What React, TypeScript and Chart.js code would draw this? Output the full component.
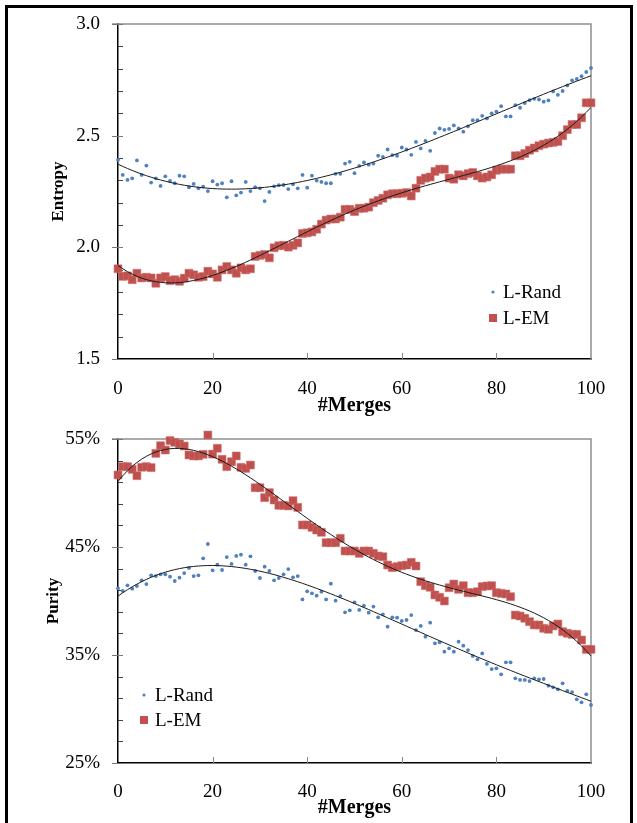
import React, { useEffect, useRef } from "react";
import { Chart, registerables } from "chart.js";

Chart.register(...registerables);

const FONT = "'Liberation Serif', 'Times New Roman', serif";

const merges = [
  0, 1, 2, 3, 4, 5, 6, 7, 8, 9, 10, 11, 12, 13, 14, 15, 16, 17, 18, 19, 20,
  21, 22, 23, 24, 25, 26, 27, 28, 29, 30, 31, 32, 33, 34, 35, 36, 37, 38, 39, 40,
  41, 42, 43, 44, 45, 46, 47, 48, 49, 50, 51, 52, 53, 54, 55, 56, 57, 58, 59, 60,
  61, 62, 63, 64, 65, 66, 67, 68, 69, 70, 71, 72, 73, 74, 75, 76, 77, 78, 79, 80,
  81, 82, 83, 84, 85, 86, 87, 88, 89, 90, 91, 92, 93, 94, 95, 96, 97, 98, 99, 100,
];

const entropyRand = [
  2.392, 2.324, 2.302, 2.309, 2.389, 2.324, 2.366, 2.29, 2.309, 2.275, 2.318,
  2.297, 2.287, 2.321, 2.318, 2.269, 2.284, 2.264, 2.272, 2.252, 2.296,
  2.281, 2.287, 2.224, 2.296, 2.233, 2.245, 2.293, 2.252, 2.269, 2.264,
  2.207, 2.248, 2.273, 2.278, 2.279, 2.261, 2.282, 2.264, 2.324, 2.267,
  2.321, 2.299, 2.293, 2.287, 2.287, 2.329, 2.329, 2.375, 2.383, 2.332,
  2.365, 2.38, 2.37, 2.375, 2.41, 2.405, 2.438, 2.413, 2.41, 2.447,
  2.438, 2.414, 2.472, 2.443, 2.477, 2.432, 2.512, 2.532, 2.526, 2.53,
  2.546, 2.532, 2.518, 2.542, 2.569, 2.569, 2.589, 2.577, 2.6, 2.608,
  2.632, 2.586, 2.586, 2.637, 2.625, 2.646, 2.659, 2.665, 2.662, 2.652,
  2.658, 2.698, 2.683, 2.7, 2.725, 2.748, 2.754, 2.766, 2.785, 2.803,
];

const entropyEM = [
  1.904, 1.87, 1.872, 1.855, 1.884, 1.863, 1.866, 1.863, 1.839, 1.863, 1.869,
  1.851, 1.855, 1.848, 1.862, 1.884, 1.877, 1.866, 1.869, 1.893, 1.881,
  1.866, 1.899, 1.914, 1.899, 1.884, 1.908, 1.899, 1.904, 1.959, 1.964,
  1.968, 1.953, 1.998, 2.007, 2.009, 2.001, 2.009, 2.02, 2.062, 2.065,
  2.069, 2.081, 2.104, 2.122, 2.127, 2.127, 2.135, 2.17, 2.17, 2.16,
  2.175, 2.175, 2.18, 2.2, 2.21, 2.22, 2.235, 2.24, 2.24, 2.242,
  2.245, 2.23, 2.265, 2.3, 2.31, 2.315, 2.34, 2.35, 2.35, 2.31,
  2.305, 2.325, 2.32, 2.33, 2.335, 2.32, 2.31, 2.315, 2.325, 2.345,
  2.35, 2.35, 2.35, 2.41, 2.41, 2.42, 2.435, 2.445, 2.455, 2.462,
  2.467, 2.47, 2.474, 2.5, 2.527, 2.55, 2.55, 2.58, 2.647, 2.647,
];

const purityRand = [
  41.17, 40.93, 41.45, 41.14, 41.39, 41.91, 41.57, 42.38, 42.31, 42.47, 42.47,
  42.25, 41.85, 42.16, 42.59, 43.06, 42.31, 42.38, 43.95, 45.28, 42.84,
  43.36, 42.87, 44.07, 43.43, 44.17, 44.29, 43.36, 44.14, 42.78, 42.13,
  43.18, 42.78, 41.91, 42.13, 42.47, 42.96, 42.19, 42.31, 40.15, 40.9,
  40.71, 40.49, 40.86, 40.15, 41.6, 40.03, 40.46, 38.95, 39.14, 39.88,
  39.17, 39.57, 38.92, 39.48, 38.49, 38.77, 37.62, 38.49, 38.46, 38.15,
  38.24, 38.7, 37.31, 37.69, 36.7, 37.99, 36.08, 36.17, 35.31, 35.62,
  35.31, 36.23, 35.86, 35.46, 34.91, 34.6, 35.15, 34.17, 33.7, 33.77,
  33.21, 34.32, 34.32, 32.84, 32.69, 32.69, 32.59, 32.84, 32.75, 32.78,
  32.16, 32.01, 31.82, 32.38, 31.67, 31.57, 30.9, 30.62, 31.36, 30.37,
];

const purityEM = [
  51.67, 52.44, 52.44, 52.19, 51.6, 52.38, 52.44, 52.35, 53.67, 54.38, 53.98,
  54.85, 54.69, 54.54, 54.35, 53.52, 53.43, 53.43, 53.58, 55.37, 53.6,
  54.14, 53.12, 52.44, 52.9, 53.43, 52.38, 52.28, 52.59, 50.49, 50.49,
  49.57, 50.03, 49.35, 48.86, 48.86, 48.8, 49.29, 48.67, 47.04, 47.04,
  46.82, 46.57, 46.36, 45.4, 45.4, 45.4, 45.8, 44.63, 44.63, 44.63,
  44.41, 44.63, 44.63, 44.41, 44.17, 44.1, 43.33, 43.09, 43.18, 43.27,
  43.33, 43.58, 43.24, 41.79, 41.42, 41.27, 40.56, 40.34, 40.0, 41.23,
  41.57, 41.08, 41.42, 40.77, 40.77, 40.86, 41.33, 41.39, 41.42, 40.77,
  40.71, 40.65, 40.4, 38.7, 38.61, 38.4, 38.09, 37.78, 37.78, 37.47,
  37.38, 37.69, 37.87, 37.16, 37.01, 36.91, 36.91, 36.39, 35.52, 35.52,
];

const seriesNames = ["L-Rand", "L-EM"];
const xTickValues = [0, 20, 40, 60, 80, 100];
const entropyTicks = [1.5, 2.0, 2.5, 3.0];
const purityTicks = [25, 35, 45, 55];

const BLUE = "#4F81BD";
const RED = "#C0504D";
const TREND_ORDER = 4;

function polyfit(xs: number[], ys: number[], deg: number) {
  const n = deg + 1;
  const A: number[][] = [];
  for (let i = 0; i < n; i++) A.push(new Array(n + 1).fill(0));
  for (let k = 0; k < xs.length; k++) {
    const t = xs[k] / 100;
    for (let i = 0; i < n; i++) {
      for (let j = 0; j < n; j++) A[i][j] += Math.pow(t, i + j);
      A[i][n] += ys[k] * Math.pow(t, i);
    }
  }
  for (let i = 0; i < n; i++) {
    let p = i;
    for (let r = i + 1; r < n; r++) if (Math.abs(A[r][i]) > Math.abs(A[p][i])) p = r;
    const tmp = A[i];
    A[i] = A[p];
    A[p] = tmp;
    for (let r = 0; r < n; r++) {
      if (r === i) continue;
      const f = A[r][i] / A[i][i];
      for (let c = i; c <= n; c++) A[r][c] -= f * A[i][c];
    }
  }
  const coef = A.map((row, i) => row[n] / row[i]);
  return (x: number) => coef.reduce((s, c, i) => s + c * Math.pow(x / 100, i), 0);
}

const decorPlugin = {
  id: "decor",
  beforeDatasetsDraw(chart: any, _a: any, opts: any) {
    const { ctx, chartArea } = chart;
    const { left, right, top, bottom } = chartArea;
    const ys = chart.scales.y;
    const xs = chart.scales.x;
    ctx.save();
    ctx.strokeStyle = "#8f8f8f";
    ctx.lineWidth = 1.5;
    ctx.beginPath();
    ctx.moveTo(left - 6, top);
    ctx.lineTo(right, top);
    ctx.lineTo(right, bottom);
    ctx.stroke();
    ctx.lineWidth = 1;
    const min = ys.min;
    const max = ys.max;
    const steps = Math.round((max - min) / opts.minor);
    for (let i = 0; i <= steps; i++) {
      const v = min + i * opts.minor;
      const py = Math.round(ys.getPixelForValue(v)) + 0.5;
      const q = (v - min) / opts.major;
      const isMajor = Math.abs(q - Math.round(q)) < 1e-6;
      ctx.strokeStyle = isMajor ? "#777" : "#444";
      ctx.beginPath();
      ctx.moveTo(isMajor ? left - 6 : left, py);
      ctx.lineTo(left + 5, py);
      ctx.stroke();
    }
    ctx.strokeStyle = "#888";
    for (const v of xTickValues) {
      if (v === xs.min || v === xs.max) continue;
      const px = Math.round(xs.getPixelForValue(v)) + 0.5;
      ctx.beginPath();
      ctx.moveTo(px, bottom);
      ctx.lineTo(px, bottom - 6);
      ctx.stroke();
    }
    ctx.restore();
  },
};

const keyPlugin = {
  id: "seriesKey",
  afterDraw(chart: any, _a: any, opts: any) {
    const { ctx, chartArea } = chart;
    const x0 = chartArea.left + opts.dx;
    let y = chartArea.top + opts.dy;
    ctx.save();
    ctx.font = `19px ${FONT}`;
    ctx.textBaseline = "middle";
    ctx.textAlign = "left";
    chart.data.datasets.forEach((ds: any) => {
      if (ds.showLine) return;
      ctx.fillStyle = ds.backgroundColor;
      if (ds.pointStyle === "rect") {
        ctx.fillRect(x0 - 4, y - 4, 8, 8);
      } else {
        ctx.beginPath();
        ctx.arc(x0, y, 1.6, 0, Math.PI * 2);
        ctx.fill();
      }
      ctx.fillStyle = "#000";
      ctx.fillText(ds.label, x0 + opts.textGap, y + 1);
      y += opts.gap;
    });
    ctx.restore();
  },
};

function makeConfig(p: any) {
  const fitR = polyfit(merges, p.rand, TREND_ORDER);
  const fitE = polyfit(merges, p.em, TREND_ORDER);
  const toPts = (arr: number[]) => merges.map((x, i) => ({ x, y: arr[i] }));
  const trend = (f: (x: number) => number) => merges.map((x) => ({ x, y: f(x) }));
  return {
    type: "scatter",
    data: {
      datasets: [
        {
          label: seriesNames[0],
          data: toPts(p.rand),
          pointStyle: "circle",
          pointRadius: 1.9,
          backgroundColor: BLUE,
          borderColor: BLUE,
          pointBorderWidth: 0,
          clip: false,
          order: 2,
        },
        {
          label: seriesNames[1],
          data: toPts(p.em),
          pointStyle: "rect",
          pointRadius: 5.6,
          backgroundColor: RED,
          borderColor: "rgba(205,110,108,0.55)",
          pointBorderWidth: 1,
          clip: false,
          order: 1,
        },
        {
          label: "trendR",
          data: trend(fitR),
          showLine: true,
          pointRadius: 0,
          borderColor: "#1a1a1a",
          borderWidth: 1,
          order: 0,
        },
        {
          label: "trendE",
          data: trend(fitE),
          showLine: true,
          pointRadius: 0,
          borderColor: "#1a1a1a",
          borderWidth: 1,
          order: 0,
        },
      ],
    },
    options: {
      animation: false,
      responsive: false,
      events: [],
      layout: { padding: { top: p.padTop, right: 46, bottom: p.padBottom, left: 0 } },
      plugins: {
        legend: { display: false },
        tooltip: { enabled: false },
        seriesKey: p.key,
        decor: { minor: p.minor, major: p.major },
      },
      scales: {
        x: {
          type: "linear",
          min: 0,
          max: 100,
          afterBuildTicks: (s: any) => {
            s.ticks = xTickValues.map((v) => ({ value: v }));
          },
          afterFit: (s: any) => {
            s.height = p.xHeight;
            s.paddingLeft = 0;
            s.paddingRight = 0;
          },
          grid: { display: false, drawTicks: false },
          border: { display: true, color: "#000", width: 1.5 },
          ticks: {
            padding: p.xPad,
            color: "#000",
            maxRotation: 0,
            autoSkip: false,
            font: { family: FONT, size: 19 },
          },
          title: {
            display: true,
            text: "#Merges",
            color: "#000",
            padding: 0,
            font: { family: FONT, size: 20, weight: "bold" },
          },
        },
        y: {
          min: p.yTicks[0],
          max: p.yTicks[p.yTicks.length - 1],
          afterBuildTicks: (s: any) => {
            s.ticks = p.yTicks.map((v: number) => ({ value: v }));
          },
          afterFit: (s: any) => {
            s.width = 118;
            s.paddingTop = 0;
            s.paddingBottom = 0;
          },
          grid: { display: false, drawTicks: false },
          border: { display: true, color: "#000", width: 1.5 },
          ticks: {
            padding: 18,
            color: "#000",
            callback: p.fmt,
            font: { family: FONT, size: 19 },
          },
          title: {
            display: true,
            text: p.title,
            color: "#000",
            padding: { top: p.titlePad, bottom: 0 },
            font: { family: FONT, size: 17, weight: "bold" },
          },
        },
      },
    },
    plugins: [decorPlugin, keyPlugin],
  };
}

export default function App() {
  const topRef = useRef<HTMLCanvasElement>(null);
  const botRef = useRef<HTMLCanvasElement>(null);

  useEffect(() => {
    const c1 = new Chart(
      topRef.current as HTMLCanvasElement,
      makeConfig({
        rand: entropyRand,
        em: entropyEM,
        yTicks: entropyTicks,
        fmt: (v: number) => Number(v).toFixed(1),
        title: "Entropy",
        titlePad: 48,
        minor: 0.1,
        major: 0.5,
        padTop: 24,
        padBottom: 2,
        xHeight: 59,
        xPad: 18.8,
        key: { dx: 375, dy: 268, gap: 26, textGap: 10 },
      }) as any
    );
    const c2 = new Chart(
      botRef.current as HTMLCanvasElement,
      makeConfig({
        rand: purityRand,
        em: purityEM,
        yTicks: purityTicks,
        fmt: (v: number) => `${v}%`,
        title: "Purity",
        titlePad: 43,
        minor: 2,
        major: 10,
        padTop: 24,
        padBottom: 3,
        xHeight: 57,
        xPad: 17.6,
        key: { dx: 26, dy: 256, gap: 25, textGap: 11 },
      }) as any
    );
    return () => {
      c1.destroy();
      c2.destroy();
    };
  }, []);

  return (
    <div
      style={{
        position: "absolute",
        left: 0,
        top: 0,
        width: 637,
        height: 823,
        overflow: "hidden",
        background: "#fff",
      }}
    >
      <div
        style={{
          position: "absolute",
          left: 5,
          top: 5,
          width: 628,
          height: 840,
          border: "3px solid #000",
          boxSizing: "border-box",
        }}
      />
      <canvas
        ref={topRef}
        width={637}
        height={420}
        style={{ position: "absolute", left: 0, top: 0, width: 637, height: 420 }}
      />
      <canvas
        ref={botRef}
        width={637}
        height={408}
        style={{ position: "absolute", left: 0, top: 415, width: 637, height: 408 }}
      />
    </div>
  );
}
